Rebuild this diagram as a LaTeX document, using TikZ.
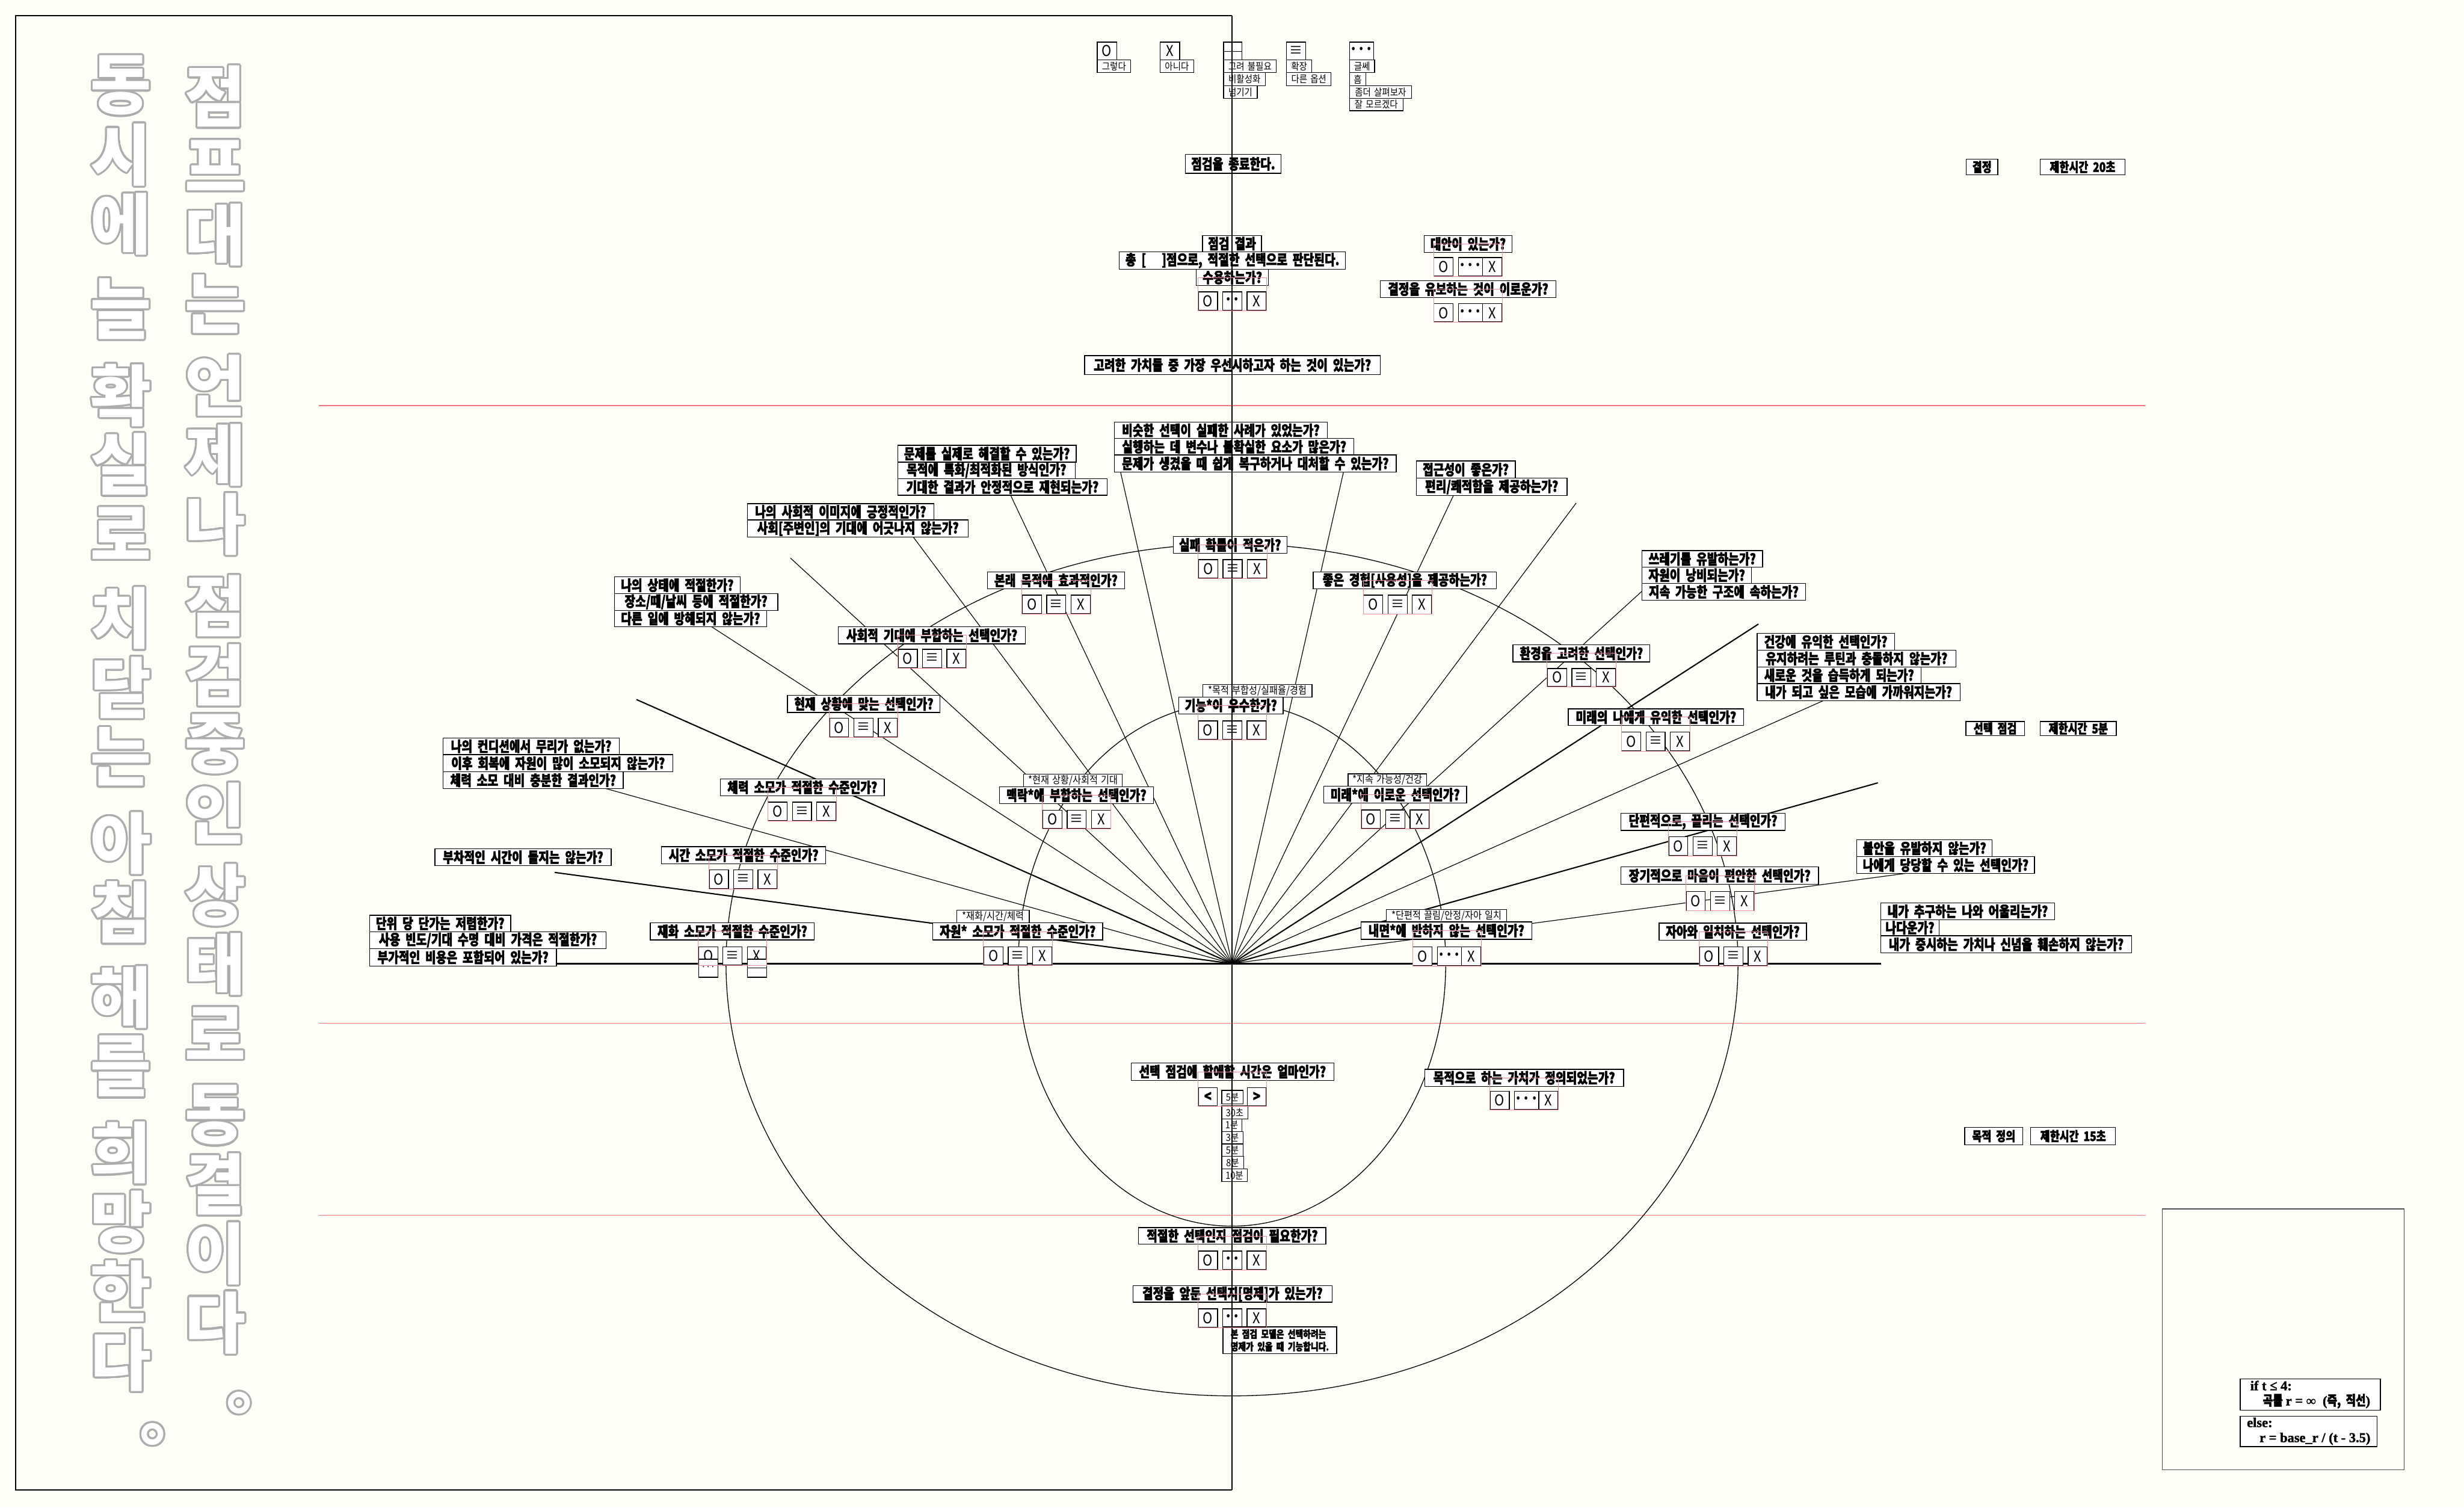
\documentclass[tikz,border=0pt]{standalone}
\usepackage{fontspec}
\usepackage[copies]{contour}
\setmainfont{Noto Sans CJK KR}
\newfontfamily\kqf{Noto Sans CJK KR}[FakeStretch=0.8,WordSpace=2,FakeBold=2.2]
\newfontfamily\klf{Noto Sans CJK KR}[FakeStretch=0.88,WordSpace=1.6]
\newfontfamily\kvf{Noto Sans CJK KR}
\newfontfamily\kcs{Liberation Serif}[FakeBold=1.6]
\definecolor{bgc}{RGB}{255,254,246}
\definecolor{redl}{RGB}{238,120,120}
\definecolor{grpc}{RGB}{238,140,155}
\definecolor{vgray}{RGB}{172,172,172}
\contourlength{1.2pt}
\contournumber{24}
\newcommand\qfont{\kqf\bfseries\fontsize{9.2}{9.4}\selectfont}
\newcommand\btnfont{\klf\fontsize{9.5}{10}\selectfont}
\newcommand\labfont{\klf\fontsize{6.3}{7}\selectfont}
\newcommand\notefont{\klf\fontsize{6.6}{7}\selectfont}
\newcommand\twodot{\raisebox{-1.2pt}{\bfseries ··}}
\newcommand\QB[7]{\node[#1,minimum width={#5-#3},minimum height={#6-#4}] (#2) at (#3,#4) {#7};}
\newcommand\OX[5]{%
 \node[btn,minimum height=#5] (#1o) at (#2,#3) {O};
 \node[btn,minimum height=#5] (#1m) at ({#2+15.5},#3) {#4};
 \node[btn,minimum height=#5] (#1x) at ({#2+31},#3) {X};}
\newcommand\GR[2]{\draw[grp] (#1o.south west) rectangle (#1x.south east |- #2.center);}
\tikzset{
 box/.style={draw,line width=0.5pt,fill=white,inner sep=0pt,anchor=north west},
 heavy/.style={path picture={\fill ([yshift=-1pt]path picture bounding box.south west) rectangle ([yshift=1.1pt]path picture bounding box.south east);}},
 qb/.style={box,heavy,font=\qfont},
 btn/.style={box,heavy,minimum width=12.2,font=\btnfont},
 ib/.style={box,heavy,font=\btnfont},
 lab/.style={box,font=\labfont},
 tb/.style={box,font=\labfont},
 nb/.style={box,font=\notefont},
 tag/.style={box,heavy,font=\kqf\bfseries\fontsize{8.3}{8.5}\selectfont},
 grp/.style={draw=grpc,line width=0.3pt},
 ray/.style={line width=0.45pt},
 fray/.style={line width=0.8pt},
 vt/.style={inner sep=0pt,text=white,font=\kvf\bfseries\fontsize{42}{42}\selectfont},
 code/.style={box,align=left,inner xsep=2.5pt,font=\fontsize{8.6}{9.6}\selectfont},
}
\begin{document}
\begin{tikzpicture}[x=1pt,y=-1pt]
\useasboundingbox (0,0) rectangle (1568,959);
\fill[bgc] (0,0) rectangle (1568,959);
% red guide lines
\foreach \yy in {258,651,773} \draw[redl,line width=0.6pt] (203,\yy) -- (1365,\yy);
\coordinate (C) at (784,613);
% ellipses
\draw[line width=0.5pt] (462,613) arc[start angle=180,end angle=360,x radius=322,y radius=267];
\draw[line width=0.5pt] (462,613) arc[start angle=180,end angle=0,x radius=322,y radius=275];
\draw[line width=0.5pt] (648,613) arc[start angle=180,end angle=360,x radius=136,y radius=166];
\draw[line width=0.5pt] (648,613) arc[start angle=180,end angle=0,x radius=136,y radius=167];
% ray ends
\coordinate (e2) at (353,555);
\coordinate (e3) at (385,501.5);
\coordinate (e4) at (405,445);
\coordinate (e5) at (452.5,398.5);
\coordinate (e5b) at (503,355);
\coordinate (e6) at (581,341.4);
\coordinate (e7) at (643,314.8);
\coordinate (e8) at (713,300);
\coordinate (e9) at (855,300);
\coordinate (e10a) at (925,315);
\coordinate (e10) at (1003,320);
\coordinate (e11) at (1045,376);
\coordinate (e12) at (1119,397);
\coordinate (e13) at (1161,445.4);
\coordinate (e14) at (1195,498);
\coordinate (e15) at (1213.5,555.5);
\coordinate (bl) at (354,613);
\coordinate (br) at (1197,613);
\foreach \e in {e3,e5,e6,e7,e8,e9,e10a,e11,e13,e15,e5b,e10} \draw[ray] (C) -- (\e);
\foreach \e in {e2,e4,e12,e14} \draw[fray] (C) -- (\e);
\draw[line width=0.9pt] (bl) -- (br);
% frames
\draw[line width=0.8pt] (784,10) -- (10,10) -- (10,948) -- (784,948);
\draw[line width=0.5pt,black!70] (1376,769) rectangle (1530,935);
% legend icons
\QB{ib}{icO}{698}{26.5}{710.3}{37.9}{O}
\QB{lab}{lbO}{698}{37.9}{719.3}{46}{그렇다}
\QB{ib}{icX}{738}{26.5}{750.4}{37.9}{X}
\QB{lab}{lbX}{738}{37.9}{759.4}{46}{아니다}
\QB{ib}{icB1}{778.4}{26.5}{790}{32.4}{}
\QB{ib}{icB2}{778.4}{32.4}{790}{37.9}{}
\QB{lab}{lbB1}{778.4}{37.9}{812}{46}{고려 불필요}
\QB{lab}{lbB2}{778.4}{46}{805}{54.3}{비활성화}
\QB{lab}{lbB3}{778.4}{54.3}{799.8}{62.3}{넘기기}
\QB{ib}{icE}{818.5}{26.5}{830.5}{37.9}{≡}
\QB{lab}{lbE1}{818.5}{37.9}{834.5}{46}{확장}
\QB{lab}{lbE2}{818.5}{46}{846.8}{54.3}{다른 옵션}
\QB{ib}{icD}{858.5}{26.5}{870.5}{37.9}{\bfseries ···}
\QB{lab}{lbD1}{858.5}{37.9}{874.5}{46}{글쎄}
\QB{lab}{lbD2}{858.5}{46}{869}{54.3}{흠}
\QB{lab}{lbD3}{858.5}{54.3}{898}{62.3}{좀더 살펴보자}
\QB{lab}{lbD4}{858.5}{62.3}{892.6}{70.2}{잘 모르겠다}
% top center
\QB{qb}{qEnd}{754}{98}{815}{110}{점검을 종료한다.}
\QB{qb}{qRes1}{765}{149.5}{802.5}{160}{점검 결과}
\QB{qb}{qRes2}{712}{160}{856}{171}{총 [\hspace{10pt}]점으로, 적절한 선택으로 판단된다.}
\QB{qb}{qRes3}{761}{171}{807}{181.5}{수용하는가?}
\OX{bOK}{762.3}{185.4}{\twodot}{11.9}
\QB{qb}{qPrio}{690}{226}{878}{238}{고려한 가치들 중 가장 우선시하고자 하는 것이 있는가?}
\QB{qb}{qAlt}{906}{149.5}{962}{160.4}{대안이 있는가?}
\OX{bAlt}{912.3}{163.6}{\bfseries ···}{11.9}
\QB{qb}{qHold}{878}{178.2}{990}{189.1}{결정을 유보하는 것이 이로운가?}
\OX{bHold}{912.3}{193}{\bfseries ···}{11.6}
% tags
\QB{tag}{tDec1}{1251}{101}{1271}{111}{결정}
\QB{tag}{tDec2}{1298}{101}{1352}{111}{제한시간 20초}
\QB{tag}{tSel1}{1250.8}{458.7}{1288}{467.7}{선택 점검}
\QB{tag}{tSel2}{1298.1}{458.7}{1346.5}{467.7}{제한시간 5분}
\QB{tag}{tPur1}{1250}{717}{1287}{728}{목적 정의}
\QB{tag}{tPur2}{1292}{717}{1346}{728}{제한시간 15초}
% groups
\QB{qb}{sim1}{709}{268.3}{844.3}{278.7}{비슷한 선택이 실패한 사례가 있었는가?}
\QB{qb}{sim2}{709}{278.7}{861.3}{289.2}{실행하는 데 변수나 불확실한 요소가 많은가?}
\QB{qb}{sim3}{709}{289.2}{888.2}{300}{문제가 생겼을 때 쉽게 복구하거나 대처할 수 있는가?}
\QB{qb}{prob1}{571}{283}{684.6}{293.7}{문제를 실제로 해결할 수 있는가?}
\QB{qb}{prob2}{571}{293.7}{684}{304.3}{목적에 특화/최적화된 방식인가?}
\QB{qb}{prob3}{571}{304.3}{704.3}{314.8}{기대한 결과가 안정적으로 재현되는가?}
\QB{qb}{soc1}{475.4}{320.2}{594}{330.5}{나의 사회적 이미지에 긍정적인가?}
\QB{qb}{soc2}{475.4}{330.5}{616}{341.4}{사회[주변인]의 기대에 어긋나지 않는가?}
\QB{qb}{acc1}{901}{293}{964}{304}{접근성이 좋은가?}
\QB{qb}{acc2}{901}{304}{997}{315}{편리/쾌적함을 제공하는가?}
\QB{qb}{fail}{746.3}{341.1}{818.7}{351.8}{실패 확률이 적은가?}
\OX{bFail}{762.5}{355.7}{≡}{11.8}
\QB{qb}{purp}{628.2}{363.6}{715.3}{374.4}{본래 목적에 효과적인가?}
\OX{bPurp}{650.3}{378.3}{≡}{11.8}
\QB{qb}{exp}{835.4}{363.5}{952.1}{374.4}{좋은 경험[사용성]을 제공하는가?}
\OX{bExp}{867.5}{378.3}{≡}{12}
\QB{qb}{tr1}{1044.6}{350}{1121.4}{360.6}{쓰레기를 유발하는가?}
\QB{qb}{tr2}{1044.6}{360.6}{1114.4}{370.8}{자원이 낭비되는가?}
\QB{qb}{tr3}{1044.6}{370.8}{1148.7}{381.7}{지속 가능한 구조에 속하는가?}
\QB{qb}{st1}{390.7}{366.8}{470.8}{377.3}{나의 상태에 적절한가?}
\QB{qb}{st2}{390.7}{377.3}{494.7}{388}{장소/때/날씨 등에 적절한가?}
\QB{qb}{st3}{390.7}{388}{487.7}{398.5}{다른 일에 방해되지 않는가?}
\QB{qb}{socx}{533.2}{398.5}{652.3}{409.3}{사회적 기대에 부합하는 선택인가?}
\OX{bSocx}{571.3}{412.8}{≡}{11.6}
\QB{qb}{env}{962.5}{410}{1049.7}{420.8}{환경을 고려한 선택인가?}
\OX{bEnv}{984.5}{425}{≡}{11.5}
\QB{qb}{he1}{1117.9}{402.7}{1205.3}{413.3}{건강에 유익한 선택인가?}
\QB{qb}{he2}{1117.9}{413.3}{1244.5}{424}{유지하려는 루틴과 충돌하지 않는가?}
\QB{qb}{he3}{1117.9}{424}{1222.3}{434.6}{새로운 것을 습득하게 되는가?}
\QB{qb}{he4}{1117.9}{434.6}{1247.1}{445.4}{내가 되고 싶은 모습에 가까워지는가?}
\QB{qb}{now}{500.9}{442.1}{598}{453}{현재 상황에 맞는 선택인가?}
\OX{bNow}{527.6}{456.7}{≡}{11.7}
\QB{nb}{funcN}{765.2}{435.1}{834.7}{443.1}{*목적 부합성/실패율/경험}
\QB{qb}{func}{749.9}{443.1}{816.3}{453.9}{기능*이 우수한가?}
\OX{bFunc}{762.3}{458.4}{≡}{11.6}
\QB{qb}{futme}{997.7}{450.7}{1109.4}{461.3}{미래의 나에게 유익한 선택인가?}
\OX{bFutme}{1031.7}{465.5}{≡}{11.8}
\QB{qb}{co1}{281.8}{469.2}{393.8}{479.8}{나의 컨디션에서 무리가 없는가?}
\QB{qb}{co2}{281.8}{479.8}{428}{490.8}{이후 회복에 자원이 많이 소모되지 않는가?}
\QB{qb}{co3}{281.8}{490.8}{396.3}{501.5}{체력 소모 대비 충분한 결과인가?}
\QB{qb}{phys}{458.2}{495.3}{562.5}{505.9}{체력 소모가 적절한 수준인가?}
\OX{bPhys}{488.5}{510}{≡}{11.8}
\QB{nb}{ctxN}{651.2}{492.2}{714}{500.3}{*현재 상황/사회적 기대}
\QB{qb}{ctx}{635.7}{500.3}{733.8}{510.9}{맥락*에 부합하는 선택인가?}
\OX{bCtx}{663.3}{515.1}{≡}{11.5}
\QB{nb}{futN}{857.6}{492}{907.6}{500}{*지속 가능성/건강}
\QB{qb}{fut}{842.1}{500}{933}{510.7}{미래*에 이로운 선택인가?}
\OX{bFut}{866}{515}{≡}{11.6}
\QB{qb}{frag}{1031.2}{517}{1135.8}{528}{단편적으로, 끌리는 선택인가?}
\OX{bFrag}{1061.6}{532}{≡}{12}
\QB{qb}{anx1}{1181.4}{534}{1267.5}{544.7}{불안을 유발하지 않는가?}
\QB{qb}{anx2}{1181.4}{544.7}{1294.4}{555.5}{나에게 당당할 수 있는 선택인가?}
\QB{qb}{sub}{276.5}{539.7}{388.7}{550.5}{부차적인 시간이 들지는 않는가?}
\QB{qb}{time}{420.7}{538.3}{525.2}{549.3}{시간 소모가 적절한 수준인가?}
\OX{bTime}{451.1}{553}{≡}{12}
\QB{qb}{calm}{1031.2}{551.3}{1157}{562.3}{장기적으로 마음이 편안한 선택인가?}
\OX{bCalm}{1072.7}{567}{≡}{12}
\QB{qb}{sf1}{1196.6}{574.1}{1307.2}{584.9}{내가 추구하는 나와 어울리는가?}
\QB{qb}{sf2}{1196.6}{584.9}{1233.7}{595}{나다운가?}
\QB{qb}{sf3}{1196.6}{595}{1356.2}{606}{내가 중시하는 가치나 신념을 훼손하지 않는가?}
\QB{qb}{un1}{235}{582}{324.7}{592.4}{단위 당 단가는 저렴한가?}
\QB{qb}{un2}{235}{592.4}{385.5}{603.2}{사용 빈도/기대 수명 대비 가격은 적절한가?}
\QB{qb}{un3}{235}{603.2}{353.8}{614.3}{부가적인 비용은 포함되어 있는가?}
\QB{qb}{money}{413.6}{586.8}{518}{597.7}{재화 소모가 적절한 수준인가?}
\OX{bMoney}{444.3}{602}{≡}{11.5}
\QB{ib}{mD1}{444.3}{610}{456.5}{621.4}{\fontsize{6}{6}\selectfont ···}
\QB{ib}{mD2}{475.4}{610}{487.6}{615.6}{}
\QB{ib}{mD3}{475.4}{615.6}{487.6}{621.4}{}
\QB{nb}{resN}{608.7}{578.8}{654.7}{586.9}{*재화/시간/체력}
\QB{qb}{res}{593.3}{586.9}{701.4}{597.7}{자원* 소모가 적절한 수준인가?}
\OX{bRes}{625.8}{602}{≡}{11.5}
\QB{nb}{innN}{882}{578.3}{958.6}{586.2}{*단편적 끌림/안정/자아 일치}
\QB{qb}{inn}{865.8}{586.2}{974.5}{597.3}{내면*에 반하지 않는 선택인가?}
\OX{bInn}{898.9}{602.2}{\bfseries ···}{12}
\QB{qb}{ego}{1055.5}{587}{1149.3}{598}{자아와 일치하는 선택인가?}
\OX{bEgo}{1081.2}{602}{≡}{12}
% bottom
\QB{qb}{alloc}{719.6}{676}{848.5}{687}{선택 점검에 할애할 시간은 얼마인가?}
\QB{ib}{stL}{762.3}{691.7}{774.4}{703.3}{\kqf\bfseries <}
\QB{tb}{stV}{777.2}{693.4}{790.7}{702}{5분}
\QB{ib}{stR}{793.4}{691.7}{805.5}{703.3}{\kqf\bfseries >}
\QB{tb}{op1}{777.2}{703.3}{793.8}{711.5}{30초}
\QB{tb}{op2}{777.2}{711.5}{790}{719.5}{1분}
\QB{tb}{op3}{777.2}{719.5}{790.7}{727.5}{3분}
\QB{tb}{op4}{777.2}{727.5}{790.7}{735.4}{5분}
\QB{tb}{op5}{777.2}{735.4}{791.1}{743.4}{8분}
\QB{tb}{op6}{777.2}{743.4}{793.4}{751.5}{10분}
\QB{qb}{purpose}{906.3}{680}{1033}{690.8}{목적으로 하는 가치가 정의되었는가?}
\OX{bPurpose}{948}{694}{\bfseries ···}{11.6}
\QB{qb}{need}{724.3}{780.7}{843.5}{791.3}{적절한 선택인지 점검이 필요한가?}
\OX{bNeed}{762.3}{795.6}{\twodot}{11.6}
\QB{qb}{prop}{720.7}{817.6}{847.4}{828.2}{결정을 앞둔 선택지[명제]가 있는가?}
\OX{bProp}{762.3}{832.4}{\twodot}{11.7}
\node[box,minimum width=72.3,minimum height=17.2,align=left,font=\kqf\bfseries\fontsize{6.6}{8}\selectfont] (mnote) at (778,843.8) {본 점검 모델은 선택하려는\\명제가 있을 때 기능합니다.};
% code boxes
\node[code,minimum width=89.2,minimum height=19.8] (code1) at (1425.3,877) {{\kcs\bfseries if t ≤ 4:}\\\hspace*{8pt}{\kqf\bfseries 곡률} {\kcs\bfseries r = ∞\ \ (}{\kqf\bfseries 즉, 직선}{\kcs\bfseries )}};
\node[code,minimum width=87.2,minimum height=19.4] (code2) at (1425.3,900.6) {{\kcs\bfseries else:}\\\hspace*{8pt}{\kcs\bfseries r = base\_r / (t - 3.5)}};
% center line on top
\draw[line width=0.9pt] (784,10) -- (784,948);
% group outlines
\GR{bOK}{qRes3}\GR{bAlt}{qAlt}\GR{bHold}{qHold}\GR{bFail}{fail}\GR{bPurp}{purp}
\GR{bExp}{exp}\GR{bSocx}{socx}\GR{bEnv}{env}\GR{bNow}{now}\GR{bFunc}{func}
\GR{bFutme}{futme}\GR{bPhys}{phys}\GR{bCtx}{ctx}\GR{bFut}{fut}\GR{bFrag}{frag}
\GR{bTime}{time}\GR{bCalm}{calm}\GR{bMoney}{money}\GR{bRes}{res}\GR{bInn}{inn}
\GR{bEgo}{ego}\GR{bPurpose}{purpose}\GR{bNeed}{need}\GR{bProp}{prop}
\draw[grp] (stL.south west) rectangle (stR.south east |- alloc.center);
% vertical outlined text
\foreach \c/\yy [count=\i] in {점/62,프/106,대/150,는/194,언/246,제/290,나/334,점/386,검/430,중/474,인/518,상/570,태/614,로/658,동/710,결/754,이/798,다/842}
  \node[vt] (vr\i) at (137,\yy) {\contour{vgray}{\c}};
\node[vt] (vrEnd) at (165,893) {\contour{vgray}{。}};
\foreach \c/\yy [count=\i] in {동/55,시/99,에/143,늘/197,확/252,실/296,로/340,치/394,닫/438,는/482,아/537,침/581,해/635,를/679,희/734,망/778,한/822,다/866}
  \node[vt] (vl\i) at (77,\yy) {\contour{vgray}{\c}};
\node[vt] (vlEnd) at (110,913) {\contour{vgray}{。}};
\end{tikzpicture}
\end{document}
